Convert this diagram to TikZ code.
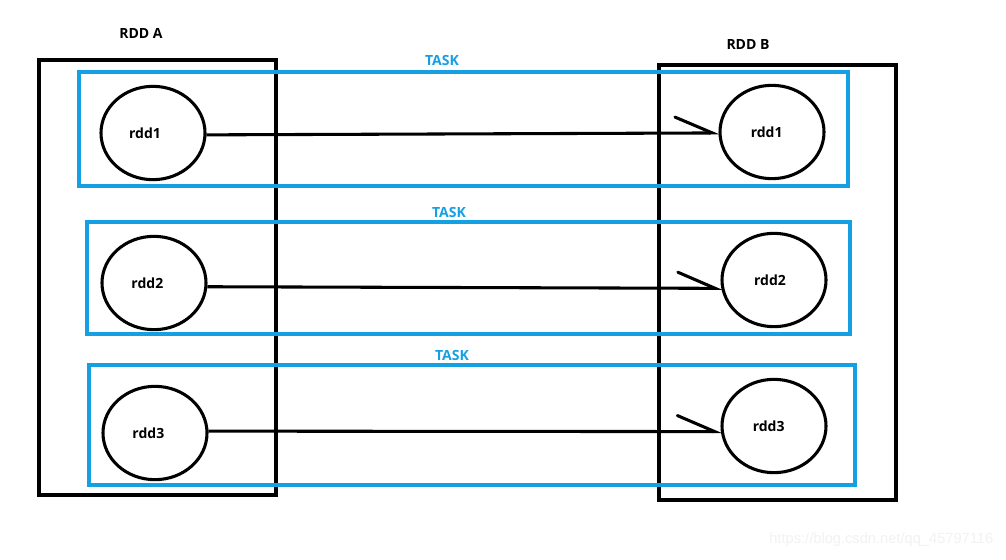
\documentclass[tikz,border=0pt]{standalone}
\usepackage{fontspec}
\setmainfont{Open Sans}
\newfontfamily\wmfont{Liberation Sans}
\usetikzlibrary{shapes.geometric,arrows.meta}
\definecolor{taskblue}{RGB}{20,160,226}
\definecolor{wmgray}{RGB}{242,242,242}
\tikzset{
  rddbox/.style={draw=black, line width=2.3pt},
  taskbox/.style={draw=taskblue, line width=2.3pt},
  rddnode/.style={ellipse, draw=black, line width=2.3pt, fill=white, inner sep=0pt,
     minimum width=78pt, minimum height=70pt, font=\bfseries\fontsize{10.5pt}{12pt}\selectfont},
  title/.style={font=\bfseries\fontsize{10.5pt}{12pt}\selectfont},
  tasklabel/.style={font=\bfseries\fontsize{10.5pt}{12pt}\selectfont, text=taskblue},
  link/.style={line width=2.3pt, -{Straight Barb[left, length=28pt, width=24pt, line cap=round]}, shorten >=-1pt}
}
\begin{document}
\begin{tikzpicture}[x=0.75pt, y=-0.75pt]
\useasboundingbox[fill=white] (0,0) rectangle (1006,560);
% RDD containers
\draw[rddbox] (39,60) rectangle (276,495);
\draw[rddbox] (659,65) rectangle (896,500);
\node[title] (ta) at (141,33) {RDD A};
\node[title] (tb) at (748,45) {RDD B};
% task boxes
\draw[taskbox] (79,72) rectangle (848,186);
\draw[taskbox] (87,222) rectangle (850,334);
\draw[taskbox] (89,365) rectangle (855,485);
\node[tasklabel] (k1) at (442,60) {TASK};
\node[tasklabel] (k2) at (449,212) {TASK};
\node[tasklabel] (k3) at (452,355) {TASK};
% rdd nodes
\node[rddnode] (a1) at (153,133) {\hspace*{-12pt}rdd1};
\node[rddnode] (a2) at (154,283) {\hspace*{-10pt}rdd2};
\node[rddnode] (a3) at (155,433) {\hspace*{-10pt}rdd3};
\node[rddnode] (b1) at (772,132) {\hspace*{-8pt}rdd1};
\node[rddnode] (b2) at (774,280) {\hspace*{-6pt}rdd2};
\node[rddnode] (b3) at (774,426) {\hspace*{-8pt}rdd3};
% connectors
\draw[link] (a1.-2) -- (b1.181);
\draw[link] (a2.-4) -- (b2.189);
\draw[link] (a3.2) -- (b3.186);
% watermark
\node[anchor=east, text=wmgray, font=\wmfont\fontsize{11pt}{13pt}\selectfont] (wm) at (998,540) {https://blog.csdn.net/qq\_45797116};
\end{tikzpicture}
\end{document}
